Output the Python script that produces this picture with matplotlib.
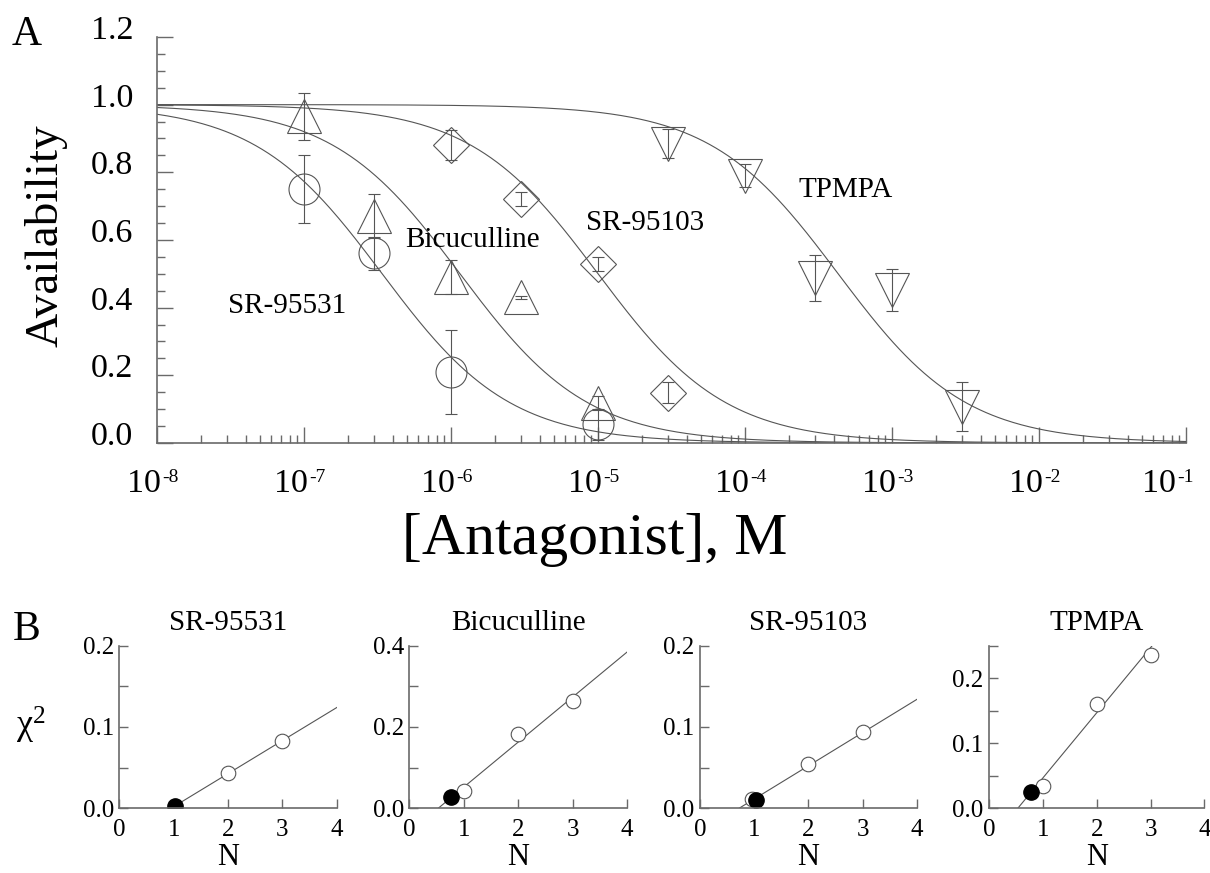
import numpy as np
import matplotlib
matplotlib.use('Agg')
import matplotlib.pyplot as plt
from matplotlib.ticker import FixedLocator, LogLocator, MultipleLocator, NullFormatter

plt.rcParams['font.family'] = 'Liberation Serif'
plt.rcParams['mathtext.fontset'] = 'custom'
plt.rcParams['mathtext.rm'] = 'Liberation Serif'
plt.rcParams['mathtext.default'] = 'regular'

# ---- panel A data (availability vs antagonist concentration) ----
sr95531_x = [1e-7, 3e-7, 1e-6, 1e-5]
sr95531_y = [0.75, 0.56, 0.21, 0.055]
sr95531_err = [0.10, 0.05, 0.125, 0.045]

bicuc_x = [1e-7, 3e-7, 1e-6, 3e-6, 1e-5]
bicuc_y = [0.965, 0.67, 0.49, 0.43, 0.118]
bicuc_err = [0.07, 0.065, 0.05, 0.005, 0.022]

sr95103_x = [1e-6, 3e-6, 1e-5, 3e-5]
sr95103_y = [0.88, 0.72, 0.53, 0.149]
sr95103_err = [0.044, 0.021, 0.021, 0.031]

tpmpa_x = [3e-5, 1e-4, 3e-4, 1e-3, 3e-3]
tpmpa_y = [0.885, 0.79, 0.488, 0.453, 0.107]
tpmpa_err = [0.043, 0.034, 0.067, 0.062, 0.072]

# fitted one-site curves, IC50 in M
fit_names = ['SR-95531', 'Bicuculline', 'SR-95103', 'TPMPA']
fit_ic50 = [3.4e-7, 1.15e-6, 1.0e-5, 4.3e-4]

xtick_exp = [-8, -7, -6, -5, -4, -3, -2, -1]
ytick_vals = [0.0, 0.2, 0.4, 0.6, 0.8, 1.0, 1.2]

# ---- panel B data (chi^2 vs N) ----
b_titles = ['SR-95531', 'Bicuculline', 'SR-95103', 'TPMPA']
b_open_n = [[2, 3], [1, 2, 3], [0.95, 2, 3], [1, 2, 3]]
b_open_chi = [[0.043, 0.083], [0.043, 0.182, 0.264], [0.011, 0.055, 0.0935], [0.034, 0.16, 0.235]]
b_fill_n = [1.02, 0.76, 1.04, 0.77]
b_fill_chi = [0.003, 0.027, 0.010, 0.0245]
b_line_n = [[0.95, 4], [0.53, 4], [0.72, 4], [0.53, 3.05]]
b_line_chi = [[0.0, 0.124], [0.0, 0.384], [0.0, 0.134], [0.0, 0.252]]

gray = '#555555'
axcol = '#6a6a6a'

fig = plt.figure(figsize=(12.1, 8.73), dpi=100)

# ---------------- panel A ----------------
ax = fig.add_axes([0.1298, 0.4926, 0.8504, 0.4651])
xs = np.logspace(-8, -1, 500)
for k in fit_ic50:
    ax.plot(xs, 1.0 / (1.0 + xs / k), color=gray, lw=0.8)

series = [
    (sr95531_x, sr95531_y, sr95531_err, 'o', 22.3),
    (bicuc_x, bicuc_y, bicuc_err, '^', 24),
    (sr95103_x, sr95103_y, sr95103_err, 'D', 18.3),
    (tpmpa_x, tpmpa_y, tpmpa_err, 'v', 24),
]
for x, y, e, m, ms in series:
    ax.plot(x, y, ls='none', marker=m, ms=ms, mfc='none', mec=gray, mew=0.8)
    ax.errorbar(x, y, yerr=e, fmt='none', ecolor=gray, elinewidth=0.8,
                capsize=4, capthick=0.8)

ax.set_xscale('log')
ax.set_xlim(1e-8, 1e-1)
ax.set_ylim(0, 1.2)
ax.xaxis.set_major_locator(FixedLocator([10.0 ** p for p in xtick_exp]))
ax.xaxis.set_minor_locator(LogLocator(base=10, subs=np.arange(2, 10)))
ax.xaxis.set_minor_formatter(NullFormatter())
ax.set_xticklabels([])
ax.set_yticks(ytick_vals)
ax.set_yticklabels([])
ax.yaxis.set_minor_locator(MultipleLocator(0.05))
for s in ['top', 'right']:
    ax.spines[s].set_visible(False)
for s in ['left', 'bottom']:
    ax.spines[s].set_color(axcol)
    ax.spines[s].set_linewidth(1.2)
ax.tick_params(which='major', direction='in', length=11.5, width=1, color=axcol)
ax.tick_params(which='minor', direction='in', length=5.8, width=1, color=axcol)

# tick labels: "10" with a small raised exponent, hyphen as in the original
for i, p in enumerate(xtick_exp):
    dx = -10 if i == len(xtick_exp) - 1 else 0
    ax.annotate('10', xy=(10.0 ** p, 0), xycoords=('data', 'axes fraction'),
                xytext=(3 + dx, -35), textcoords='offset points',
                ha='right', va='baseline', fontsize=24.5)
    ax.annotate('-%d' % abs(p), xy=(10.0 ** p, 0), xycoords=('data', 'axes fraction'),
                xytext=(3.5 + dx, -28), textcoords='offset points',
                ha='left', va='baseline', fontsize=14)
for v in ytick_vals:
    ax.annotate('%.1f' % v, xy=(0, v), xycoords=('axes fraction', 'data'),
                xytext=(-17, -1.5), textcoords='offset points',
                ha='right', va='baseline', fontsize=24.5)

ax.text(7.7e-8, 0.406, 'SR-95531', fontsize=21, ha='center', va='center')
ax.text(1.41e-6, 0.60, 'Bicuculline', fontsize=21, ha='center', va='center')
ax.text(2.1e-5, 0.651, 'SR-95103', fontsize=21, ha='center', va='center')
ax.text(4.8e-4, 0.749, 'TPMPA', fontsize=21, ha='center', va='center')

fig.text(27 / 1210, 1 - 35 / 873, 'A', fontsize=30, ha='center', va='center')
fig.text(46 / 1210, 1 - 236 / 873, 'Availability', fontsize=34, rotation=90,
         ha='center', va='center')
fig.text(595 / 1210, 1 - 540 / 873, '[Antagonist], M', fontsize=43,
         ha='center', va='center')

# ---------------- panel B ----------------
b_left = [0.0986, 0.3383, 0.5785, 0.8176]
b_width = [0.1798, 0.1798, 0.1793, 0.1777]
b_ymax = [0.2, 0.4, 0.2, 0.25]
b_minor = [0.05, 0.1, 0.05, 0.05]
b_major = [0.1, 0.2, 0.1, 0.1]

for i in range(4):
    bx = fig.add_axes([b_left[i], 0.0741, b_width[i], 0.1863])
    bx.plot(b_line_n[i], b_line_chi[i], color=gray, lw=0.8)
    bx.plot(b_open_n[i], b_open_chi[i], ls='none', marker='o', ms=10.5,
            mfc='white', mec=gray, mew=0.8)
    bx.plot([b_fill_n[i]], [b_fill_chi[i]], ls='none', marker='o', ms=11,
            mfc='black', mec='black')
    bx.set_xlim(0, 4)
    bx.set_ylim(0, b_ymax[i])
    bx.set_xticks([0, 1, 2, 3, 4])
    bx.yaxis.set_major_locator(MultipleLocator(b_major[i]))
    bx.yaxis.set_minor_locator(MultipleLocator(b_minor[i]))
    bx.yaxis.set_major_formatter(plt.FuncFormatter(lambda v, p: '%.1f' % v))
    for s in ['top', 'right']:
        bx.spines[s].set_visible(False)
    for s in ['left', 'bottom']:
        bx.spines[s].set_color(axcol)
        bx.spines[s].set_linewidth(1.2)
    bx.tick_params(which='both', direction='in', length=6.7, width=1, color=axcol)
    bx.tick_params(labelsize=18)
    bx.tick_params(axis='y', pad=4)
    bx.tick_params(axis='x', pad=8)
    bx.set_title(b_titles[i], fontsize=21, pad=11)
    bx.set_xlabel('N', fontsize=22, labelpad=1)

fig.text(27 / 1210, 1 - 630 / 873, 'B', fontsize=30, ha='center', va='center')
fig.text(31 / 1210, 1 - 725 / 873, 'χ$^2$', fontsize=26, ha='center', va='center')

fig.savefig('out.png', dpi=100)
